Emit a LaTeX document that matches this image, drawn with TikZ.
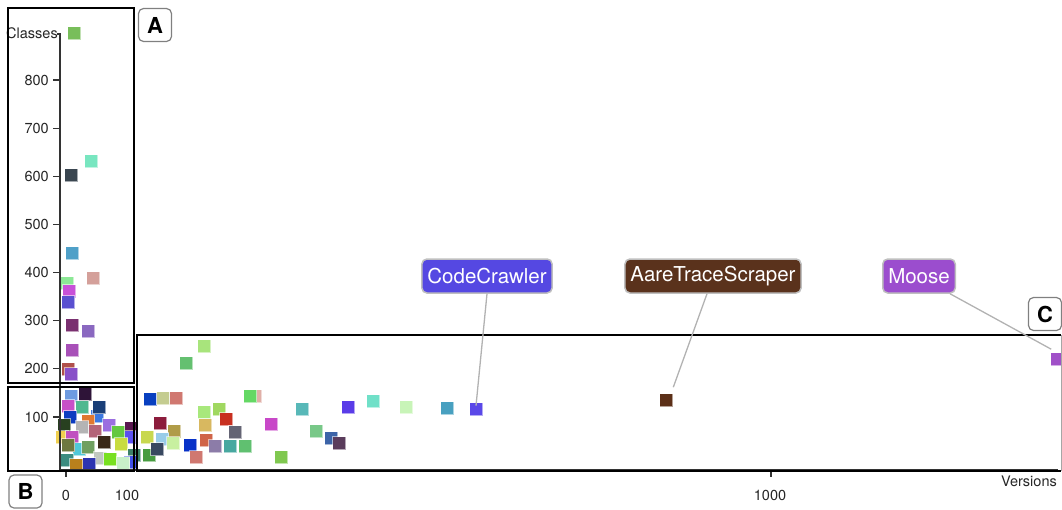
\documentclass[tikz,border=0pt]{standalone}
\usepackage{fontspec}
\setmainfont{TeX Gyre Heros}
\usetikzlibrary{backgrounds}

% one data point: name, x, y, fill colour (HTML)
\newcommand\plotsq[4]{\definecolor{sqfill}{HTML}{#4}\node[sq,fill=sqfill] (#1) at (#2,#3) {};}

\begin{document}
\begin{tikzpicture}[x=1pt,y=-1pt,
  sq/.style={rectangle, minimum size=13pt, inner sep=0pt, draw=white, draw opacity=0.55, line width=0.6pt},
  axisline/.style={draw=black!80, line width=1.1pt},
  ticklbl/.style={font=\fontsize{14.5}{16}\selectfont, text=black!85, inner sep=0pt},
  zone/.style={draw=black, line width=1.8pt},
  tag/.style={draw=black!50, line width=1.2pt, rounded corners=5pt, fill=white,
    font=\fontsize{22}{24}\selectfont\bfseries, minimum width=33pt, minimum height=33pt, inner sep=0pt},
  callout/.style={draw=black!25, line width=1.5pt, rounded corners=5pt, text=white,
    font=\fontsize{20.5}{22}\selectfont, minimum height=34pt, inner xsep=5.5pt, inner ysep=0pt},
  leader/.style={draw=black!30, line width=1.3pt}
]
\useasboundingbox (0,0) rectangle (1062,509);
\clip (0,0) rectangle (1062,509);

% ---- projects with many classes ----
\plotsq{a1}{74}{33}{78BE5A}
\plotsq{a2}{91}{161}{78E6C0}
\plotsq{a3}{71}{175}{3A4650}
\plotsq{a4}{72}{253}{4FA0C8}
\plotsq{a5}{93}{278}{D4A09A}
\plotsq{a6}{67}{283}{8CE896}
\plotsq{a7}{69}{291}{C850D8}
\plotsq{a8}{68}{302}{5A50D0}
\plotsq{a9}{72}{325}{7A3070}
\plotsq{a10}{88}{331}{8A68C0}
\plotsq{a11}{72}{350}{A850B8}
\plotsq{a12}{68}{369}{B0504A}
\plotsq{a13}{71}{374}{8850C8}

% ---- dense cluster near the origin ----
\plotsq{b1}{71}{396}{6E9BE0}
\plotsq{b2}{85}{394}{2E1438}
\plotsq{b3}{68}{406}{C850C8}
\plotsq{b4}{82}{407}{50B890}
\plotsq{b5b}{97}{416}{3C78E0}
\plotsq{b5}{99}{407}{1A3F78}
\plotsq{b6}{70}{417}{0C3CC0}
\plotsq{b7}{64}{425}{284020}
\plotsq{b9}{88}{421}{E07830}
\plotsq{b8}{109}{425}{9B6EE0}
\plotsq{b10}{82}{427}{B4B4B4}
\plotsq{b11}{95}{431}{B46478}
\plotsq{b12}{131}{428}{5A1850}
\plotsq{b14}{129}{437}{5A50F0}
\plotsq{b13}{118}{432}{64C840}
\plotsq{b16}{62}{437}{F0D050}
\plotsq{b15}{72}{437}{C050C0}
\plotsq{b17}{104}{442}{3A2818}
\plotsq{b18}{121}{444}{C8DC40}
\plotsq{b20}{79}{449}{50C8D8}
\plotsq{b19}{68}{445}{6E7840}
\plotsq{b21}{88}{447}{70A060}
\plotsq{b29}{134}{455}{3C8068}
\plotsq{b22}{67}{460}{3C8C80}
\plotsq{b23}{100}{458}{C0C8C0}
\plotsq{b28}{130}{462}{4050E8}
\plotsq{b26}{89}{464}{2C34B0}
\plotsq{b27}{76}{465}{B8801C}
\plotsq{b24}{110}{459}{78E020}
\plotsq{b25}{123}{463}{C8F0C8}

% ---- projects with many versions ----
\plotsq{m1}{204}{346}{A8E47C}
\plotsq{m2}{186}{363}{64C070}
\plotsq{m3}{150}{399}{0840C0}
\plotsq{m4}{163}{398}{C4CC90}
\plotsq{m5}{176}{398}{D07870}
\plotsq{m6}{255}{396}{E0B0A8}
\plotsq{m7}{250}{396}{64D864}
\plotsq{m8}{160}{423}{8C1C3C}
\plotsq{m9}{204}{412}{A8E87C}
\plotsq{m10}{219}{409}{A0D860}
\plotsq{m11}{205}{425}{D8B860}
\plotsq{m12}{226}{419}{C83020}
\plotsq{m13}{174}{431}{B09C48}
\plotsq{m14}{235}{432}{646474}
\plotsq{m25}{149}{455}{489C40}
\plotsq{m15}{147}{437}{C8D850}
\plotsq{m16}{162}{439}{98CCE8}
\plotsq{m17}{173}{443}{C8F0A0}
\plotsq{m23}{157}{449}{384860}
\plotsq{m18}{190}{445}{0832C8}
\plotsq{m19}{206}{440}{D06448}
\plotsq{m20}{215}{446}{8C7CA8}
\plotsq{m21}{230}{446}{48A8A0}
\plotsq{m22}{245}{446}{60C070}
\plotsq{m24}{196}{457}{D07870}
\plotsq{m27}{302}{409}{58B8B8}
\plotsq{m28}{271}{424}{C848C8}
\plotsq{m29}{316}{431}{78C888}
\plotsq{m30}{331}{438}{3C64A8}
\plotsq{m31}{339}{443}{5A3C5C}
\plotsq{m32}{281}{457}{80C850}
\plotsq{m33}{348}{407}{5A3CE8}
\plotsq{m34}{373}{401}{70E0C8}
\plotsq{m35}{406}{407}{C8F4B8}
\plotsq{m36}{447}{408}{48A0C0}
\plotsq{sqCC}{476}{409}{5A48E8}
\plotsq{sqATS}{666}{400}{5C3018}
\plotsq{sqMoose}{1057}{359}{A050C8}

% ---- axes ----
\draw[axisline] (57,34) -- (60,34) -- (60,470) -- (1058,470);
\foreach \v/\yy in {800/80,700/128.1,600/176.3,500/224.4,400/272.6,300/320.7,200/368.9,100/417}{
  \draw[axisline] (53,\yy) -- (60,\yy);
  \node[ticklbl, anchor=east] (ylab\v) at (49,\yy) {\v};
}
\node[ticklbl, anchor=east] (ytitle) at (58,33) {Classes};
\draw[axisline] (66,470) -- (66,477);
\draw[axisline] (771,470) -- (771,477);
\node[ticklbl] (xlab0) at (66,495) {0};
\node[ticklbl] (xlab100) at (127,495) {100};
\node[ticklbl] (xlab1000) at (770,495) {1000};
\node[ticklbl, anchor=east] (xtitle) at (1057,481) {Versions};

% ---- highlighted zones ----
\draw[zone] (8,8) rectangle (134,383);
\draw[zone] (8,387) rectangle (134,471);
\draw[zone] (1061,335) -- (137,335) -- (137,471) -- (1061,471);
\draw[draw=black!35, line width=0.8pt] (1061,335) -- (1061,471);

% ---- named projects ----
\node[callout, fill={rgb,255:red,85;green,72;blue,226}] (lblCC) at (487,276) {CodeCrawler};
\node[callout, fill={rgb,255:red,90;green,50;blue,28}] (lblATS) at (713,276) {AareTraceScraper};
\node[callout, fill={rgb,255:red,155;green,77;blue,206}] (lblMoose) at (919,276) {Moose};
\draw[leader] (lblCC.south) -- ([yshift=-3.5pt]sqCC.north);
\draw[leader] ([xshift=-6pt]lblATS.south) -- ([xshift=0.5pt,yshift=6pt]sqATS.north east);
\draw[leader] ([xshift=-6pt]lblMoose.south east) -- ([xshift=1pt,yshift=3pt]sqMoose.north west);

% ---- zone tags ----
\node[tag] (tagA) at (155,25) {A};
\node[tag] (tagB) at (25.5,491.5) {B};
\node[tag] (tagC) at (1045,314) {C};
\end{tikzpicture}
\end{document}
